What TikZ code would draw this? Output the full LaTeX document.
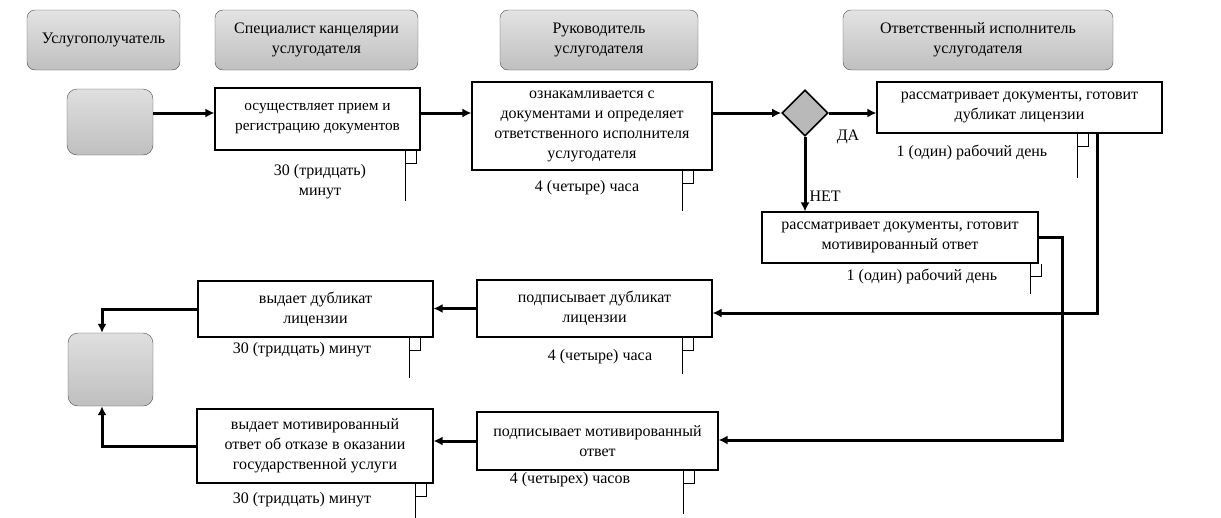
\documentclass[tikz,border=0pt]{standalone}
\usepackage{fontspec}
\setmainfont{Liberation Serif}
\usepackage{tikz}
\usetikzlibrary{shapes.geometric,arrows.meta,positioning,calc}

% time mark under a box: box, distance from right edge, length
\newcommand{\timer}[3]{%
    \draw[tick] ($(#1.south east)+(-#2,0)$) coordinate (tm) -- ++(0,#3);
    \draw[tick] (tm) ++(0,13) -- ++(11,0) -- ++(0,-13);
}

\begin{document}
\begin{tikzpicture}[
    x=1pt, y=-1pt,
    font=\fontsize{16}{20}\selectfont,
    lane/.style={rectangle, rounded corners=8pt, draw=gray!60!black, top color=gray!22, bottom color=gray!50, align=center, inner sep=2pt},
    term/.style={rectangle, rounded corners=10pt, draw=gray!60!black, top color=gray!25, bottom color=gray!50},
    proc/.style={rectangle, draw, line width=1.1pt, fill=white, align=center, inner sep=2pt},
    dec/.style={diamond, draw, line width=1.6pt, fill=gray!55, minimum size=46pt, inner sep=0pt},
    time/.style={align=center, inner sep=1pt},
    flow/.style={line width=3pt, -{Latex[length=9pt,width=9pt]}},
    tick/.style={line width=0.8pt},
]
    \useasboundingbox (0,0) rectangle (1221,517);

    % lanes
    \node[lane, minimum width=153pt, minimum height=60pt] (hRcv) at (103.5,40) {Услугополучатель};
    \node[lane, minimum width=203pt, minimum height=60pt] (hOff) at (316.5,40) {Специалист канцелярии\\услугодателя};
    \node[lane, minimum width=198pt, minimum height=60pt] (hBoss) at (599,40) {Руководитель\\услугодателя};
    \node[lane, minimum width=270pt, minimum height=60pt] (hExec) at (978,40) {Ответственный исполнитель\\услугодателя};

    % process
    \node[term, minimum width=86pt, minimum height=66pt] (start) at (110,122) {};
    \node[proc, minimum width=205pt, minimum height=62pt, font=\fontsize{15.3}{20}\selectfont] (reg) at (317.5,119) {осуществляет прием и\\регистрацию документов};
    \node[proc, minimum width=240pt, minimum height=88pt] (look) at (592,126) {ознакамливается с\\документами и определяет\\ответственного исполнителя\\услугодателя};
    \node[dec] (choice) at (805,113) {};
    \node[proc, minimum width=285pt, minimum height=51pt] (prepDup) at (1019.5,107.5) {рассматривает документы, готовит\\дубликат лицензии};
    \node[proc, minimum width=276pt, minimum height=51pt] (prepRef) at (900,237.5) {рассматривает документы, готовит\\мотивированный ответ};
    \node[proc, minimum width=235pt, minimum height=57pt] (signDup) at (594.5,308.5) {подписывает дубликат\\лицензии};
    \node[proc, minimum width=235pt, minimum height=56pt] (giveDup) at (315.5,309) {выдает дубликат\\лицензии};
    \node[term, minimum width=85pt, minimum height=73pt] (finish) at (110.5,369.5) {};
    \node[proc, minimum width=241pt, minimum height=58pt] (signRef) at (597.5,441) {подписывает мотивированный\\ответ};
    \node[proc, minimum width=236pt, minimum height=74pt] (giveRef) at (315,446) {выдает мотивированный\\ответ об отказе в оказании\\государственной услуги};

    % times
    \node[time] (tReg) at (320,182) {30 (тридцать)\\минут};
    \node[time] (tLook) at (587,188) {4 (четыре) часа};
    \node[time] (tDup) at (972,152) {1 (один) рабочий день};
    \node[time] (tRef) at (922,276) {1 (один) рабочий день};
    \node[time] (tSignDup) at (600,357) {4 (четыре) часа};
    \node[time] (tGiveDup) at (302,350) {30 (тридцать) минут};
    \node[time] (tSignRef) at (570,480) {4 (четырех) часов};
    \node[time] (tGiveRef) at (302,500) {30 (тридцать) минут};

    \timer{reg}{15}{50}
    \timer{look}{30}{40}
    \timer{prepDup}{85}{44}
    \timer{prepRef}{8}{30}
    \timer{signDup}{30}{36}
    \timer{giveDup}{24}{40}
    \timer{signRef}{35}{43}
    \timer{giveRef}{18}{34}

    % connectors
    \coordinate (row) at (0,113);
    \coordinate (cDup) at (1097,313);
    \coordinate (cRef) at (1062,440);
    \coordinate (cFin) at (102,0);
    \draw[flow] (start.east |- row) -- (reg.west |- row);
    \draw[flow] (reg.east |- row) -- (look.west |- row);
    \draw[flow] (look.east |- choice) -- (choice.west);
    \draw[flow] (choice.east) -- (prepDup.west |- choice);
    \node[inner sep=1pt] (yes) at (848,137) {ДА};
    \draw[flow] (choice.south) -- (choice.south |- prepRef.north)
        node[pos=0.8, right, inner sep=3pt] (no) {НЕТ};
    \draw[flow] (prepDup.south -| cDup) -- (cDup) -- (signDup.east |- cDup);
    \draw[flow] (prepRef.east) -- (prepRef.east -| cRef) -- (cRef) -- (signRef.east |- cRef);
    \draw[flow] (signDup.west) -- (giveDup.east |- signDup.west);
    \draw[flow] (signRef.west) -- (giveRef.east |- signRef.west);
    \draw[flow] (giveDup.west) -- (giveDup.west -| cFin) -- (finish.north -| cFin);
    \draw[flow] (giveRef.west) -- (giveRef.west -| cFin) -- (finish.south -| cFin);
\end{tikzpicture}
\end{document}
